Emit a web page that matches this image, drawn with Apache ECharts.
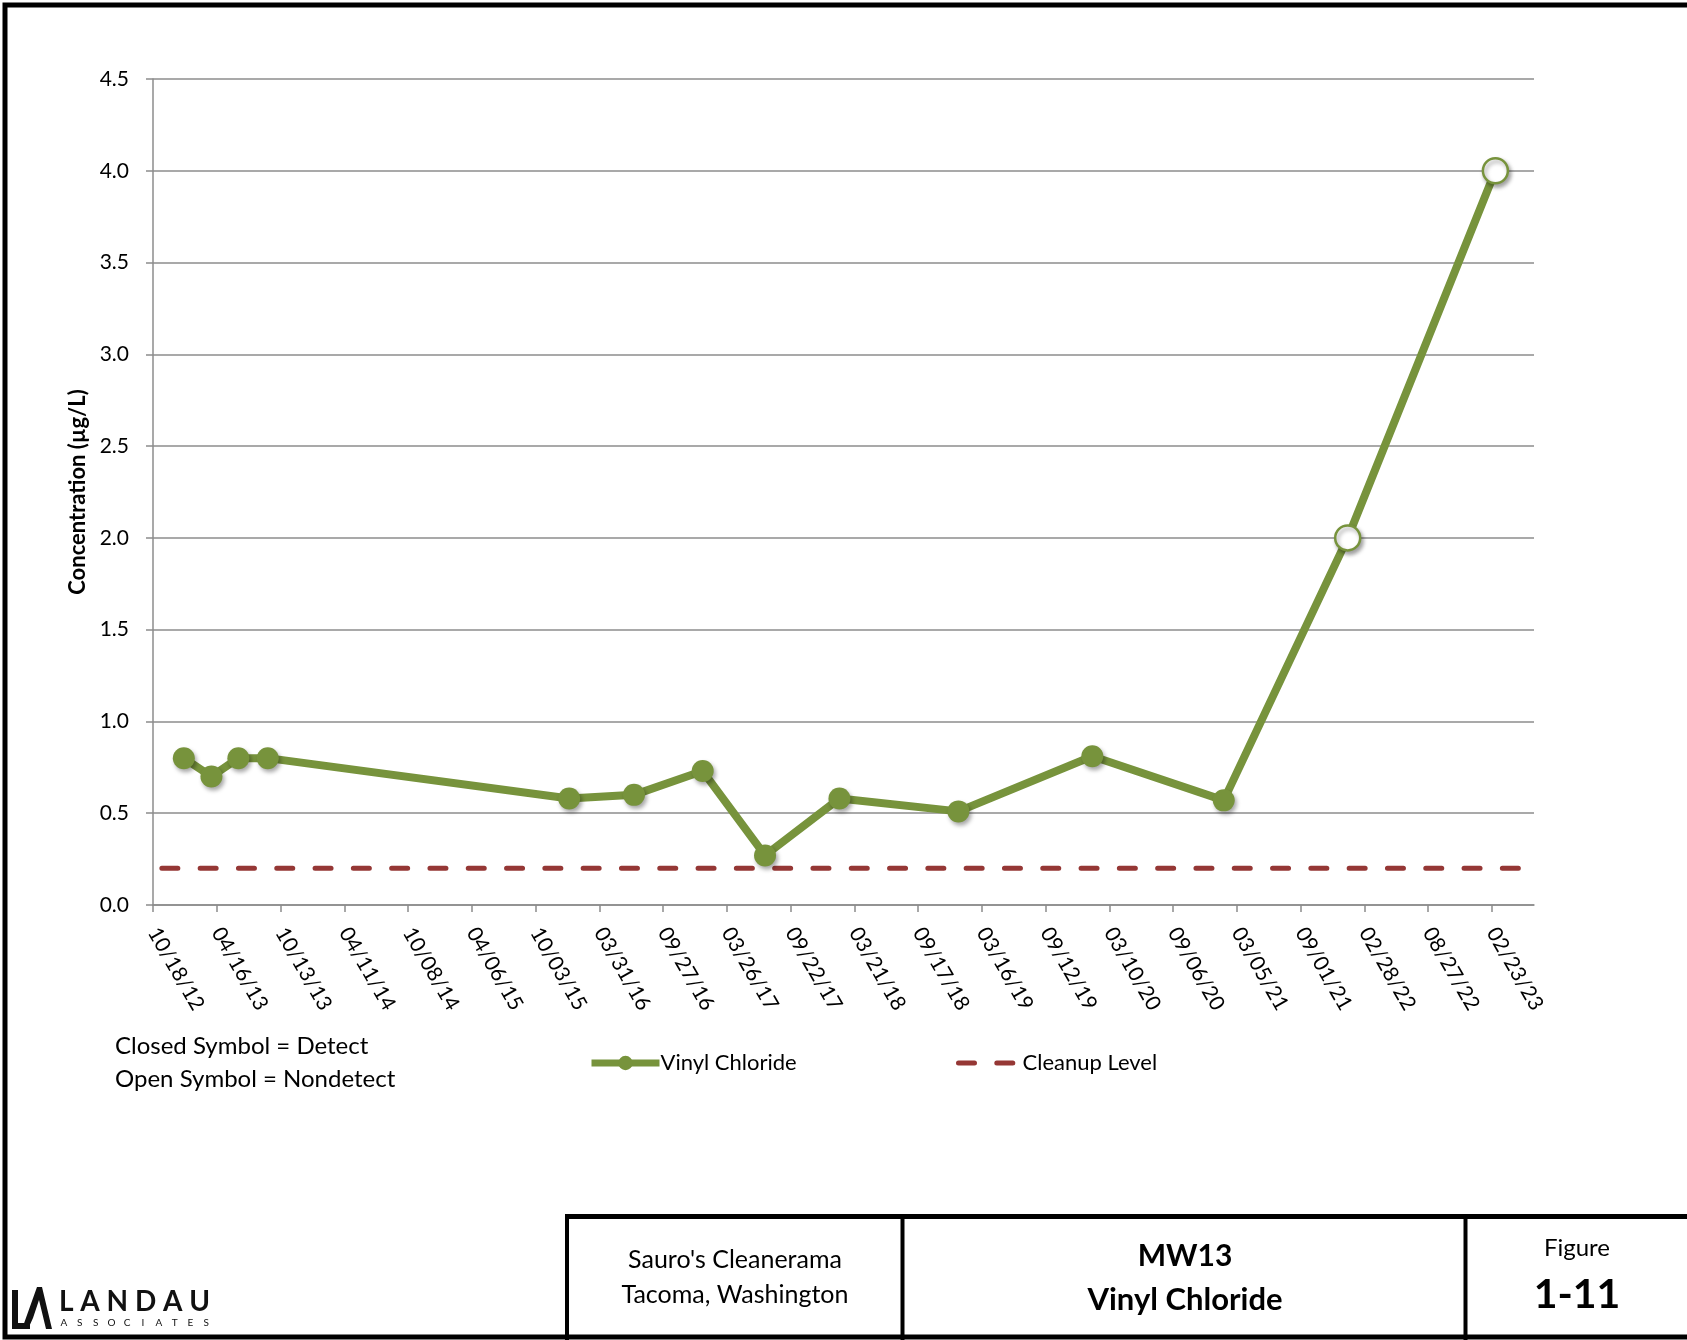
<!DOCTYPE html>
<html>
<head>
<meta charset="utf-8">
<script src="https://cdn.jsdelivr.net/npm/echarts@6/dist/echarts.min.js"></script>
<style>
  html, body { margin: 0; padding: 0; background: #fff; }
  #chart { width: 1687px; height: 1340px; }
</style>
</head>
<body>
<div id="chart"></div>
<script>
// ---------------- data ----------------
const tickLabels = ['10/18/12','04/16/13','10/13/13','04/11/14','10/08/14','04/06/15','10/03/15','03/31/16','09/27/16','03/26/17','09/22/17','03/21/18','09/17/18','03/16/19','09/12/19','03/10/20','09/06/20','03/05/21','09/01/21','02/28/22','08/27/22','02/23/23'];
const axisEndDate = '06/22/23';
const sampleDates = ['01/13/13','04/01/13','06/16/13','09/07/13','01/06/16','07/07/16','01/17/17','07/12/17','02/07/18','01/09/19','01/22/20','01/27/21','01/12/22','03/05/23'];
const vinylChloride = [0.8, 0.7, 0.8, 0.8, 0.58, 0.6, 0.73, 0.27, 0.58, 0.51, 0.81, 0.57, 2.0, 4.0];
const detected = [true, true, true, true, true, true, true, true, true, true, true, true, false, false];
const cleanupDates = ['11/12/12', '05/20/23'];
const cleanupLevel = [0.2, 0.2];
const yTicks = { min: 0, max: 4.5, interval: 0.5 };

// ---------------- helpers ----------------
function parseDate(s) {
  const p = s.split('/').map(Number);
  return Date.UTC(2000 + p[2], p[0] - 1, p[1]);
}
const base = parseDate(tickLabels[0]);
function dayOffset(s) { return Math.round((parseDate(s) - base) / 86400000); }
const tickValues = tickLabels.map(dayOffset);
const labelByValue = {};
tickValues.forEach((v, i) => { labelByValue[v] = tickLabels[i]; });

const GREEN = '#77933C';
const RED = '#953735';
const GRID = '#8c8c8c';
const FONT = 'Lato';

const vcData = sampleDates.map((d, i) => {
  const item = { value: [dayOffset(d), vinylChloride[i]] };
  if (!detected[i]) {
    item.symbolSize = 25;
    item.itemStyle = { color: '#ffffff', borderColor: GREEN, borderWidth: 2.5 };
  }
  return item;
});
const cuData = cleanupDates.map((d, i) => [dayOffset(d), cleanupLevel[i]]);

// logo sub-text letters
const assocLetters = 'ASSOCIATES'.split('');
const assocGraphics = assocLetters.map((ch, i) => ({
  type: 'text', x: 64 + i * 15.8, y: 1323,
  style: { text: ch, font: '10px ' + FONT, fill: '#111', textAlign: 'center', textVerticalAlign: 'middle' }
}));

const chart = echarts.init(document.getElementById('chart'), null, { renderer: 'canvas' });

const option = {
  animation: false,
  backgroundColor: '#ffffff',
  textStyle: { fontFamily: FONT },
  grid: { left: 153, right: 153, top: 79, bottom: 435, containLabel: false },
  xAxis: {
    type: 'value',
    min: 0,
    max: dayOffset(axisEndDate),
    interval: 180,
    axisLine: { show: true, lineStyle: { color: GRID, width: 1.5 } },
    axisTick: { show: true, length: 7, lineStyle: { color: GRID, width: 1.5 }, customValues: tickValues },
    splitLine: { show: false },
    axisLabel: {
      customValues: tickValues,
      rotate: -60,
      margin: 24,
      color: '#000',
      fontFamily: FONT,
      fontSize: 21,
      formatter: v => labelByValue[v] || ''
    }
  },
  yAxis: {
    type: 'value',
    min: yTicks.min,
    max: yTicks.max,
    interval: yTicks.interval,
    name: 'Concentration (µg/L)',
    nameLocation: 'middle',
    nameGap: 62,
    nameTextStyle: { color: '#000', fontFamily: FONT, fontSize: 22, fontWeight: 'bold' },
    axisLine: { show: true, lineStyle: { color: GRID, width: 1.5 } },
    axisTick: { show: true, length: 7, lineStyle: { color: GRID, width: 1.5 } },
    splitLine: { show: true, lineStyle: { color: GRID, width: 1.5 } },
    axisLabel: {
      color: '#000',
      fontFamily: FONT,
      fontSize: 21,
      margin: 24,
      formatter: v => v.toFixed(1)
    }
  },
  legend: [
    {
      data: ['Vinyl Chloride'],
      left: 583, top: 1047,
      itemWidth: 68, itemHeight: 18,
      lineStyle: { width: 7 },
      textStyle: { color: '#000', fontFamily: FONT, fontSize: 22, padding: [0, 0, 0, -4] },
      selectedMode: false
    },
    {
      data: ['Cleanup Level'],
      left: 951, top: 1047,
      itemWidth: 59, itemHeight: 18,
      itemStyle: { opacity: 0 },
      lineStyle: { width: 5, type: [16, 22.3], cap: 'round' },
      textStyle: { color: '#000', fontFamily: FONT, fontSize: 22 },
      selectedMode: false
    }
  ],
  series: [
    {
      name: 'Cleanup Level',
      type: 'line',
      data: cuData,
      symbol: 'none',
      lineStyle: { color: RED, width: 5, type: [16, 22.3], cap: 'round' },
      itemStyle: { color: RED },
      z: 2
    },
    {
      name: 'Vinyl Chloride',
      type: 'line',
      data: vcData,
      symbol: 'circle',
      symbolSize: 22,
      lineStyle: { color: GREEN, width: 8 },
      itemStyle: {
        color: GREEN,
        shadowColor: 'rgba(0,0,0,0.35)', shadowBlur: 4, shadowOffsetX: 2, shadowOffsetY: 3
      },
      z: 3
    }
  ],
  graphic: [
    // outer frame
    { type: 'rect', shape: { x: 5, y: 5, width: 1720, height: 1332 }, style: { fill: 'none', stroke: '#000', lineWidth: 5 }, z: 10 },
    // notes
    { type: 'text', x: 115, y: 1046, style: { text: 'Closed Symbol = Detect', font: '24px ' + FONT, fill: '#000', textVerticalAlign: 'middle' } },
    { type: 'text', x: 115, y: 1079, style: { text: 'Open Symbol = Nondetect', font: '24px ' + FONT, fill: '#000', textVerticalAlign: 'middle' } },
    // title block lines
    { type: 'line', shape: { x1: 565, y1: 1216.5, x2: 1700, y2: 1216.5 }, style: { stroke: '#000', lineWidth: 5 }, z: 10 },
    { type: 'line', shape: { x1: 567, y1: 1214, x2: 567, y2: 1340 }, style: { stroke: '#000', lineWidth: 4 }, z: 10 },
    { type: 'line', shape: { x1: 902.5, y1: 1214, x2: 902.5, y2: 1340 }, style: { stroke: '#000', lineWidth: 4 }, z: 10 },
    { type: 'line', shape: { x1: 1465.5, y1: 1214, x2: 1465.5, y2: 1340 }, style: { stroke: '#000', lineWidth: 4 }, z: 10 },
    // title block text
    { type: 'text', x: 735, y: 1260, style: { text: "Sauro's Cleanerama", font: '25px ' + FONT, fill: '#000', textAlign: 'center', textVerticalAlign: 'middle' } },
    { type: 'text', x: 735, y: 1295, style: { text: 'Tacoma, Washington', font: '25px ' + FONT, fill: '#000', textAlign: 'center', textVerticalAlign: 'middle' } },
    { type: 'text', x: 1185, y: 1256, style: { text: 'MW13', font: 'bold 30px ' + FONT, fill: '#000', textAlign: 'center', textVerticalAlign: 'middle' } },
    { type: 'text', x: 1185, y: 1300, style: { text: 'Vinyl Chloride', font: 'bold 31px ' + FONT, fill: '#000', textAlign: 'center', textVerticalAlign: 'middle' } },
    { type: 'text', x: 1577, y: 1248, style: { text: 'Figure', font: '24px ' + FONT, fill: '#000', textAlign: 'center', textVerticalAlign: 'middle' } },
    { type: 'text', x: 1577, y: 1295, style: { text: '1-11', font: 'bold 41px ' + FONT, fill: '#000', textAlign: 'center', textVerticalAlign: 'middle' } },
    // logo mark
    { type: 'polygon', shape: { points: [[12, 1290], [18, 1290], [18, 1323], [30, 1323], [30, 1329], [12, 1329]] }, style: { fill: '#111' } },
    { type: 'polygon', shape: { points: [[22, 1329], [37, 1287], [42, 1287], [52, 1329], [46, 1329], [39, 1300], [33, 1318], [28, 1329]] }, style: { fill: '#111' } },
    { type: 'text', left: 59, top: 1288, style: { text: 'L A N D A U', font: 'bold 28px ' + FONT, fill: '#111' } }
  ].concat(assocGraphics)
};
chart.setOption(option);
</script>
</body>
</html>
